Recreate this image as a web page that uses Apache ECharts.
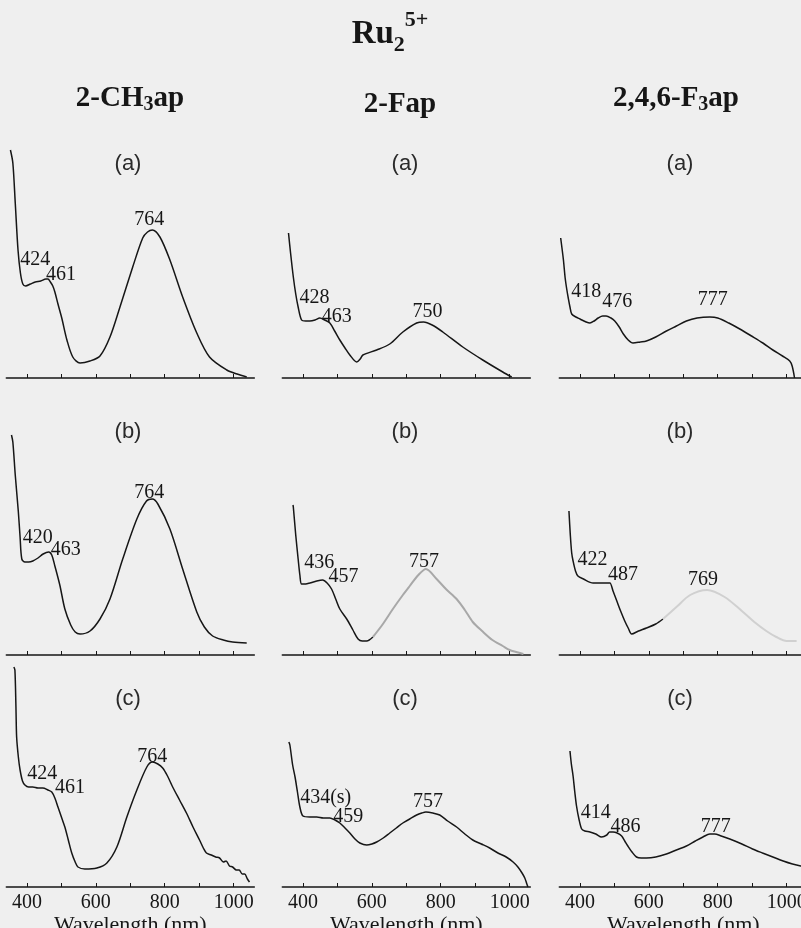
<!DOCTYPE html>
<html>
<head>
<meta charset="utf-8">
<script src="https://cdn.jsdelivr.net/npm/echarts@6/dist/echarts.min.js"></script>
<style>
  html, body { margin: 0; padding: 0; background: #efefef; }
  #chart { width: 801px; height: 928px; }
</style>
</head>
<body>
<div id="chart"></div>
<script>
// ---- Spectra: [wavelength (nm), absorbance (a.u.)] ----
const ch3ap_a = [[352,2.28],[359,2.15],[366,1.75],[374,1.28],[381,1.05],[388,0.94],[396,0.92],[410,0.94],[424,0.96],[440,0.97],[455,0.99],[461,0.99],[468,0.96],[475,0.92],[481,0.86],[490,0.74],[501,0.60],[516,0.38],[533,0.21],[554,0.15],[583,0.17],[612,0.22],[641,0.41],[670,0.71],[707,1.11],[736,1.40],[750,1.46],[764,1.48],[786,1.41],[815,1.18],[852,0.81],[893,0.45],[930,0.21],[980,0.08],[1010,0.04],[1038,0.01]];
const fap_a = [[358,1.45],[364,1.25],[372,1.01],[379,0.84],[386,0.71],[396,0.58],[408,0.57],[420,0.57],[435,0.58],[449,0.60],[463,0.58],[478,0.55],[492,0.47],[507,0.38],[522,0.30],[536,0.23],[556,0.16],[566,0.19],[574,0.23],[614,0.28],[652,0.34],[690,0.46],[730,0.55],[750,0.56],[775,0.53],[806,0.46],[864,0.31],[922,0.18],[980,0.06],[1006,0.01]];
const f3ap_a = [[344,1.40],[352,1.18],[357,1.00],[362,0.88],[366,0.80],[371,0.71],[376,0.64],[388,0.61],[400,0.59],[418,0.56],[429,0.55],[441,0.57],[453,0.60],[466,0.62],[476,0.62],[490,0.60],[501,0.57],[514,0.51],[526,0.44],[540,0.38],[554,0.35],[575,0.36],[593,0.37],[620,0.41],[651,0.47],[680,0.52],[709,0.57],[740,0.60],[777,0.61],[800,0.60],[832,0.55],[864,0.49],[898,0.42],[931,0.35],[960,0.28],[988,0.22],[1009,0.17],[1016,0.12],[1023,0.00]];

const ch3ap_b = [[355,2.20],[359,2.13],[366,1.80],[375,1.43],[380,1.18],[385,0.96],[394,0.93],[405,0.93],[417,0.94],[432,0.97],[447,1.01],[463,1.03],[472,1.00],[481,0.89],[488,0.80],[496,0.69],[510,0.46],[527,0.30],[540,0.23],[554,0.21],[583,0.24],[612,0.36],[641,0.56],[678,0.96],[719,1.36],[747,1.54],[764,1.56],[780,1.51],[815,1.26],[852,0.86],[893,0.43],[915,0.28],[939,0.19],[970,0.15],[997,0.13],[1038,0.12]];
const fap_b = [[371,1.50],[372,1.48],[379,1.20],[386,0.96],[391,0.80],[396,0.71],[408,0.71],[420,0.72],[440,0.74],[457,0.75],[470,0.72],[483,0.66],[495,0.56],[507,0.46],[527,0.36],[545,0.25],[560,0.16],[572,0.14],[585,0.14],[603,0.18]];
const fap_b_faint = [[603,0.18],[630,0.30],[661,0.46],[690,0.60],[710,0.69],[735,0.80],[757,0.86],[788,0.76],[815,0.66],[846,0.56],[870,0.45],[893,0.33],[920,0.24],[950,0.15],[980,0.09],[1000,0.05],[1019,0.03],[1040,0.01]];
const f3ap_b = [[368,1.44],[372,1.20],[376,1.02],[380,0.94],[387,0.84],[394,0.79],[410,0.76],[438,0.72],[460,0.72],[481,0.72],[487,0.72],[496,0.64],[507,0.54],[518,0.44],[530,0.34],[540,0.27],[550,0.21],[570,0.24],[593,0.27],[620,0.31],[641,0.36]];
const f3ap_b_faint = [[641,0.36],[680,0.48],[720,0.60],[769,0.65],[820,0.58],[870,0.44],[910,0.32],[941,0.24],[970,0.18],[1000,0.14],[1029,0.14]];

const ch3ap_c = [[362,2.20],[365,2.17],[368,1.80],[370,1.50],[375,1.30],[380,1.17],[387,1.06],[394,1.02],[405,1.00],[417,1.00],[432,0.99],[446,0.99],[461,0.97],[472,0.95],[481,0.89],[490,0.80],[500,0.70],[510,0.60],[520,0.47],[530,0.34],[540,0.25],[548,0.20],[568,0.18],[603,0.19],[632,0.24],[661,0.40],[690,0.70],[719,0.97],[748,1.20],[764,1.25],[780,1.23],[794,1.19],[808,1.11],[823,1.00],[843,0.87],[863,0.74],[882,0.60],[901,0.47],[912,0.39],[921,0.34],[935,0.32],[948,0.30],[959,0.29],[970,0.25],[978,0.26],[988,0.21],[997,0.20],[1008,0.17],[1016,0.17],[1025,0.13],[1032,0.13],[1040,0.08],[1046,0.05]];
const fap_c = [[359,1.45],[362,1.42],[370,1.22],[377,1.10],[384,0.95],[391,0.80],[400,0.71],[420,0.70],[440,0.70],[459,0.69],[478,0.69],[493,0.67],[507,0.64],[522,0.59],[536,0.54],[551,0.48],[565,0.44],[585,0.42],[600,0.43],[614,0.45],[633,0.49],[652,0.54],[671,0.59],[690,0.64],[710,0.68],[730,0.72],[745,0.74],[757,0.75],[777,0.74],[797,0.72],[820,0.66],[846,0.60],[870,0.53],[893,0.47],[918,0.43],[942,0.39],[966,0.34],[990,0.30],[1010,0.25],[1024,0.20],[1036,0.14],[1044,0.09],[1050,0.03],[1053,0.00]];
const f3ap_c = [[371,1.36],[375,1.23],[380,1.11],[385,0.95],[390,0.81],[397,0.68],[405,0.58],[414,0.56],[429,0.55],[446,0.53],[463,0.50],[478,0.52],[486,0.55],[496,0.55],[508,0.54],[521,0.51],[530,0.46],[539,0.41],[551,0.35],[564,0.30],[578,0.29],[593,0.29],[620,0.30],[651,0.33],[680,0.37],[709,0.41],[735,0.46],[757,0.50],[777,0.53],[791,0.53],[810,0.51],[835,0.48],[870,0.43],[901,0.38],[930,0.34],[960,0.30],[990,0.26],[1017,0.23],[1041,0.21],[1060,0.20]];

// ---- Band maxima / shoulders (nm) ----
const ch3ap_a_peaks = ['424','461','764'];
const fap_a_peaks   = ['428','463','750'];
const f3ap_a_peaks  = ['418','476','777'];
const ch3ap_b_peaks = ['420','463','764'];
const fap_b_peaks   = ['436','457','757'];
const f3ap_b_peaks  = ['422','487','769'];
const ch3ap_c_peaks = ['424','461','764'];
const fap_c_peaks   = ['434(s)','459','757'];
const f3ap_c_peaks  = ['414','486','777'];

// ---- Axis ticks and text ----
const wavelengthTicks = [400, 500, 600, 700, 800, 900, 1000];
const tickLabels = [400, 600, 800, 1000];
const panelTags = ['(a)', '(b)', '(c)'];
const axisTitle = 'Wavelength (nm)';

// ---- Layout ----
const colLeft = [6.3, 282.3, 559.3];
const rowBase = [378, 655, 887];
const GRID_W = 248, GRID_H = 240, Y_MAX = 2.4;
const INK = '#161616';
const SERIF = '"Liberation Serif", "Times New Roman", serif';

const panels = [
  { row: 0, col: 0, curve: ch3ap_a, peaks: ch3ap_a_peaks, offs: [[0,-22],[13,-4],[-3,-10]] },
  { row: 0, col: 1, curve: fap_a,   peaks: fap_a_peaks,   offs: [[2,-23],[12,-3],[4,-10]] },
  { row: 0, col: 2, curve: f3ap_a,  peaks: f3ap_a_peaks,  offs: [[0,-30],[11,-14],[3,-17]] },
  { row: 1, col: 0, curve: ch3ap_b, peaks: ch3ap_b_peaks, offs: [[4,-23],[17,-2],[-3,-6]] },
  { row: 1, col: 1, curve: fap_b,   faint: fap_b_faint,  peaks: fap_b_peaks,  offs: [[4,-19],[21,-3],[-2,-7]] },
  { row: 1, col: 2, curve: f3ap_b,  faint: f3ap_b_faint, peaks: f3ap_b_peaks, offs: [[5,-21],[13,-8],[-4,-10]] },
  { row: 2, col: 0, curve: ch3ap_c, peaks: ch3ap_c_peaks, offs: [[7,-14],[22,-2],[0,-5]] },
  { row: 2, col: 1, curve: fap_c,   peaks: fap_c_peaks,   offs: [[11,-19],[25,-1],[2,-10]] },
  { row: 2, col: 2, curve: f3ap_c,  peaks: f3ap_c_peaks,  offs: [[11,-18],[16,-5],[6,-7]] }
];

// Absorbance on a curve at a given wavelength (used to anchor the band labels)
function heightAt(curve, x) {
  for (let i = 1; i < curve.length; i++) {
    const [x0, y0] = curve[i - 1], [x1, y1] = curve[i];
    if (x >= x0 && x <= x1) return y0 + (y1 - y0) * (x - x0) / (x1 - x0);
  }
  return curve[curve.length - 1][1];
}

const grid = [], xAxis = [], yAxis = [], series = [];
panels.forEach((p, i) => {
  const bottomRow = p.row === 2;
  grid.push({
    left: colLeft[p.col], top: rowBase[p.row] - GRID_H, width: GRID_W, height: GRID_H,
    containLabel: false, outerBoundsMode: 'none'
  });
  xAxis.push({
    type: 'value', gridIndex: i, min: 340, max: 1060,
    axisLine: { show: true, onZero: false, lineStyle: { color: INK, width: 1.5 } },
    axisTick: { show: true, inside: true, length: 4, customValues: wavelengthTicks, lineStyle: { color: INK, width: 1 } },
    splitLine: { show: false },
    axisLabel: {
      show: bottomRow, customValues: tickLabels, margin: 6, color: INK,
      fontFamily: SERIF, fontSize: 20, formatter: (v) => String(v)
    },
    name: bottomRow ? axisTitle : '',
    nameLocation: 'middle', nameGap: 21,
    nameTextStyle: { color: INK, fontFamily: SERIF, fontSize: 22, verticalAlign: 'top' }
  });
  yAxis.push({ type: 'value', gridIndex: i, min: 0, max: Y_MAX, show: false });

  const lineBase = {
    type: 'line', xAxisIndex: i, yAxisIndex: i, showSymbol: false, symbol: 'none',
    smooth: 0.3, silent: true, animation: false
  };
  series.push(Object.assign({}, lineBase, { data: p.curve, lineStyle: { color: INK, width: 1.5 } }));
  if (p.faint) {
    const faintColor = p.col === 2 ? '#d0d0d0' : '#a8a8a8';
    series.push(Object.assign({}, lineBase, { data: p.faint, lineStyle: { color: faintColor, width: 2 } }));
  }
  const full = p.faint ? p.curve.concat(p.faint) : p.curve;
  series.push({
    type: 'scatter', xAxisIndex: i, yAxisIndex: i, symbolSize: 1, silent: true, animation: false,
    itemStyle: { color: 'rgba(0,0,0,0)' },
    data: p.peaks.map((txt, k) => {
      const nm = parseFloat(txt);
      return { name: txt, value: [nm, heightAt(full, nm)], label: { offset: p.offs[k] } };
    }),
    label: {
      show: true, position: 'inside', formatter: (d) => d.name,
      color: INK, opacity: 1, textBorderWidth: 0, textBorderColor: 'transparent',
      fontFamily: SERIF, fontSize: 20
    }
  });
});

// ---- Titles with sub/superscripts, laid out from measured text widths ----
const measureCtx = document.createElement('canvas').getContext('2d');
function textRow(pieces, cx, cy) {
  let total = 0;
  pieces.forEach(pc => { measureCtx.font = pc.font; pc.w = measureCtx.measureText(pc.text).width; total += pc.w; });
  let x = cx - total / 2;
  return pieces.map(pc => {
    const el = {
      type: 'text', x: x, y: cy + (pc.dy || 0), silent: true,
      style: { text: pc.text, font: pc.font, fill: INK, align: 'left', verticalAlign: 'middle' }
    };
    x += pc.w;
    return el;
  });
}
const bigBold = 'bold 33px ' + SERIF, smallBold = 'bold 22px ' + SERIF;
const headBold = 'bold 29px ' + SERIF, headSub = 'bold 20px ' + SERIF;
let graphic = [];
graphic = graphic.concat(textRow([
  { text: 'Ru', font: bigBold }, { text: '2', font: smallBold, dy: 11 }, { text: '5+', font: smallBold, dy: -14 }
], 390, 34));
graphic = graphic.concat(textRow([
  { text: '2-CH', font: headBold }, { text: '3', font: headSub, dy: 6 }, { text: 'ap', font: headBold }
], 130, 99));
graphic = graphic.concat(textRow([{ text: '2-Fap', font: headBold }], 400, 105));
graphic = graphic.concat(textRow([
  { text: '2,4,6-F', font: headBold }, { text: '3', font: headSub, dy: 6 }, { text: 'ap', font: headBold }
], 676, 99));

const tagX = [128, 405, 680], tagY = [164, 432, 699];
panelTags.forEach((t, r) => tagX.forEach(x => graphic.push({
  type: 'text', x: x, y: tagY[r], silent: true,
  style: { text: t, font: '22px "Liberation Sans", Arial, sans-serif', fill: '#2a2a2a', align: 'center', verticalAlign: 'middle' }
})));

const chart = echarts.init(document.getElementById('chart'), null, { renderer: 'canvas' });
chart.setOption({
  backgroundColor: '#efefef',
  animation: false,
  grid, xAxis, yAxis, series, graphic
});
</script>
</body>
</html>
